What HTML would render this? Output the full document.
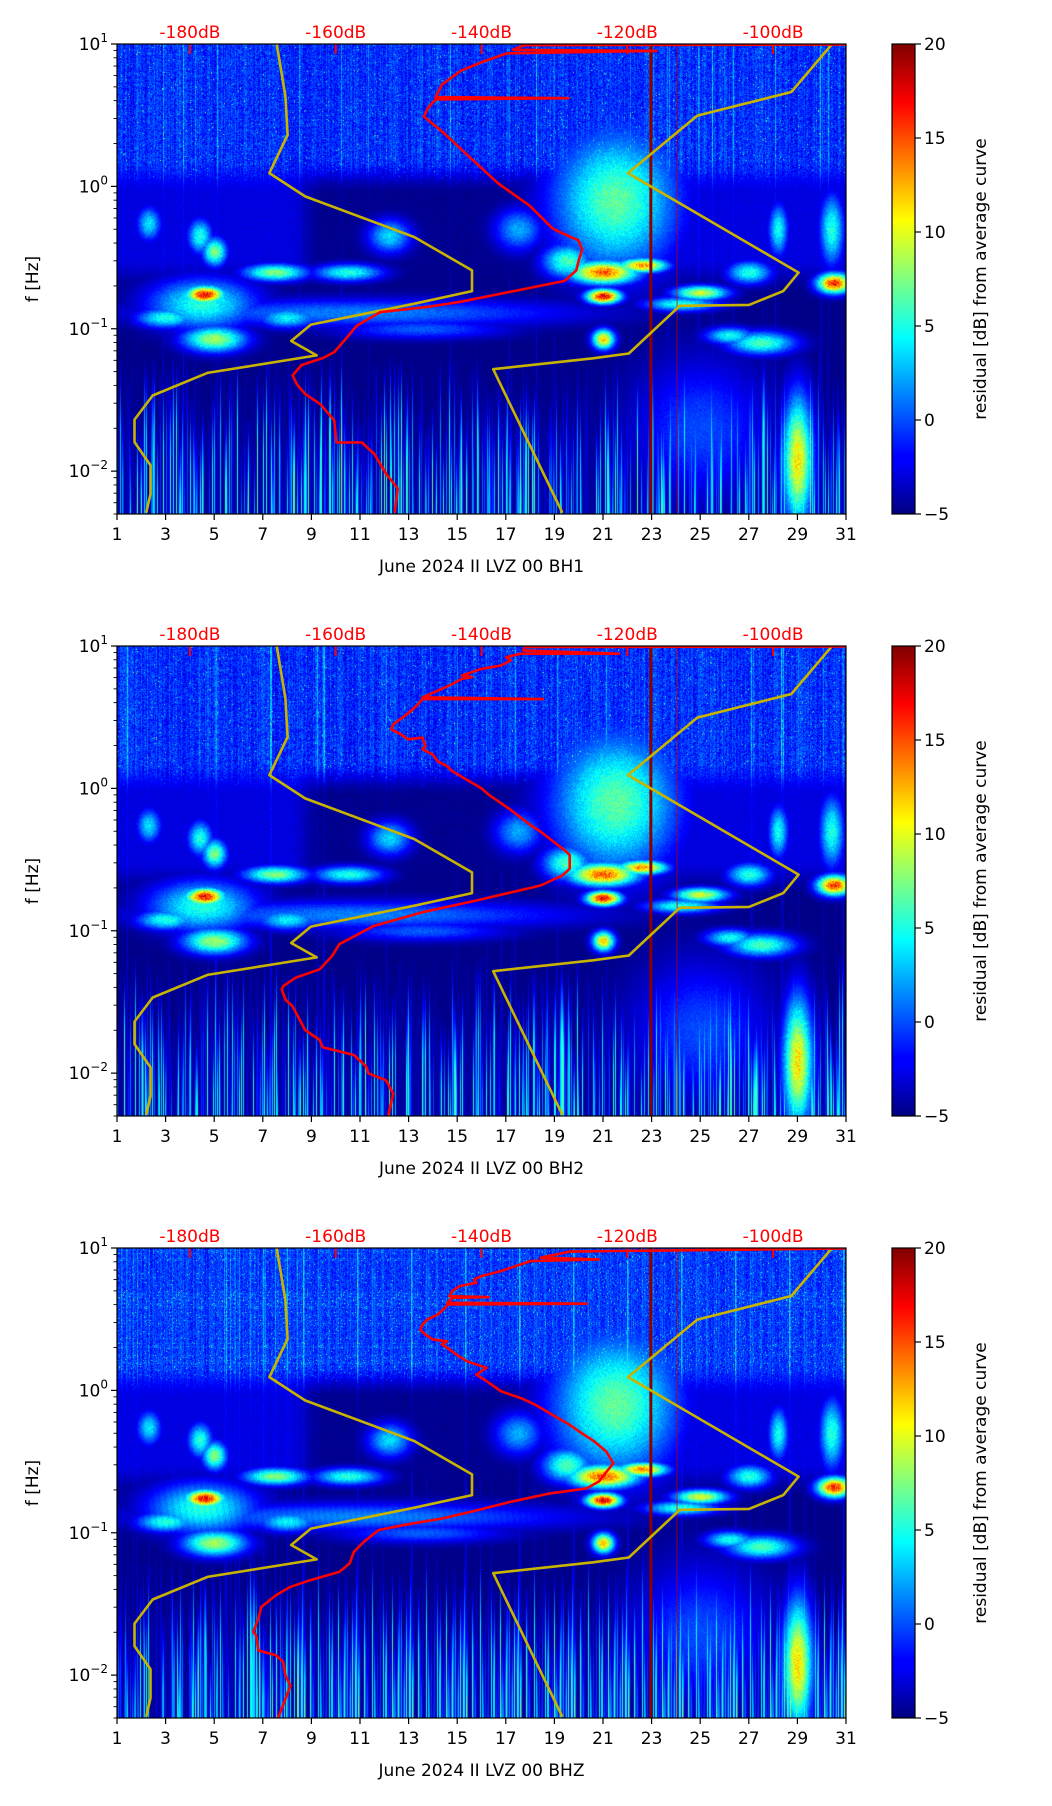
<!DOCTYPE html>
<html><head><meta charset="utf-8">
<style>
html,body{margin:0;padding:0;background:#fff;}
#wrap{position:relative;width:1052px;height:1806px;overflow:hidden;font-family:"DejaVu Sans","Liberation Sans",sans-serif;}
canvas{position:absolute;}
svg{position:absolute;left:0;top:0;}
</style></head>
<body>
<div id="wrap">
<canvas id="c0" width="729" height="470" style="left:117px;top:44px"></canvas>
<canvas id="c1" width="729" height="470" style="left:117px;top:646px"></canvas>
<canvas id="c2" width="729" height="470" style="left:117px;top:1248px"></canvas>
<svg id="s" width="1052" height="1806" xmlns="http://www.w3.org/2000/svg">
<defs>
<linearGradient id="jet" x1="0" y1="1" x2="0" y2="0">
<stop offset="0" stop-color="#000080"/><stop offset="0.11" stop-color="#0000ff"/>
<stop offset="0.125" stop-color="#0000ff"/><stop offset="0.375" stop-color="#00ffff"/>
<stop offset="0.625" stop-color="#ffff00"/><stop offset="0.875" stop-color="#ff0000"/>
<stop offset="1" stop-color="#800000"/>
</linearGradient>
</defs>
</svg>
</div>
<script>
// ---- data ----
const panelTitles = ["June 2024 II LVZ 00 BH1","June 2024 II LVZ 00 BH2","June 2024 II LVZ 00 BHZ"];
const dayTicks = [1,3,5,7,9,11,13,15,17,19,21,23,25,27,29,31];
const dbTicks = [-180,-160,-140,-120,-100];
const cbTicks = [-5,0,5,10,15,20];
const yDecades = [1,0,-1,-2];

// red curves: level in dB and frequency in Hz
const red1Db = [-151.9,-151.5,-153.1,-154.7,-156.4,-159.9,-160.2,-162.1,-164.2,-165.3,-165.9,-164.7,-161.8,-160.2,-158.7,-157.1,-153.9,-147.6,-142.8,-128.6,-127,-126.7,-126.2,-126.7,-127.8,-130.2,-133.4,-137.8,-141.3,-145.2,-147.9,-147.3,-146.3,-128.1,-146.3,-145.4,-142.8,-139.7,-136.5,-116,-135.7,-134.2,-90];
const red1F  = [.0051,.00755,.0096,.0132,.0159,.0159,.0227,.0295,.0349,.0405,.047,.0556,.0622,.0684,.084,.105,.131,.142,.155,.217,.257,.298,.36,.418,.442,.504,.732,1.06,1.55,2.38,3.09,3.58,4.08,4.16,4.24,5.2,6.5,7.55,8.6,8.94,9.1,9.8,9.92];
const red2Db = [-152.8,-152.1,-153.1,-155.5,-155.8,-157.5,-161.8,-162.2,-164.2,-165.9,-166.9,-167.4,-167.2,-165.5,-162.2,-160.5,-159.5,-154.8,-148.1,-140.7,-131.9,-128.9,-127.9,-127.9,-128.6,-131.9,-133.3,-136,-139,-140,-144,-144.7,-146,-146.7,-148.1,-147.7,-148.1,-150.1,-151.1,-152.4,-152.1,-150.8,-149.4,-148.7,-148.1,-131.6,-148.1,-146,-144,-142.7,-141.3,-142.7,-140,-137.3,-136,-136.6,-134.6,-121.2,-134.3,-134,-90];
const red2F  = [.00505,.00718,.0089,.00995,.0111,.0134,.0152,.0171,.0201,.0294,.0329,.0387,.0408,.0468,.0536,.0665,.0805,.108,.135,.163,.208,.245,.273,.34,.368,.497,.553,.707,.902,1.0,1.32,1.43,1.55,1.73,1.88,1.98,2.27,2.21,2.4,2.6,2.82,3.15,3.6,3.91,4.24,4.24,4.36,4.85,5.41,5.87,6.04,6.2,6.92,7.3,7.92,8.36,8.83,8.83,9.31,9.84,9.92];
const red3Db = [-167.9,-166.9,-166.2,-166.9,-167.2,-168.2,-170.6,-170.9,-171.3,-170.6,-170.2,-168.2,-166.2,-163.5,-159.5,-158.1,-157.5,-156.1,-154.1,-150.8,-145.4,-141.3,-136,-130.6,-125.6,-123.9,-123.2,-121.9,-122.9,-124.5,-126.6,-127.9,-130.3,-132.6,-134.6,-137.3,-139.3,-140.7,-139.3,-142,-143.4,-144.7,-145.4,-144.7,-146.7,-147.7,-148.4,-148.1,-147.4,-146,-145,-144.7,-125.6,-144.7,-144,-139,-144.4,-144,-143,-140.7,-141,-140,-137.3,-133.3,-123.9,-131.9,-127.9,-121.9,-90];
const red3F  = [.005,.0068,.00845,.00995,.0124,.0138,.0149,.019,.0201,.0249,.0301,.0364,.0417,.0464,.0531,.0608,.0735,.0865,.1045,.113,.126,.141,.165,.189,.205,.229,.255,.308,.372,.437,.514,.573,.674,.792,.883,.984,1.16,1.29,1.44,1.6,1.78,1.99,2.1,2.21,2.28,2.47,2.67,2.9,3.15,3.41,3.8,4.01,4.06,4.12,4.47,4.52,4.59,4.98,5.4,5.7,6.01,6.35,6.89,8.09,8.32,8.55,9.43,9.53,9.92];

// noise model curves (yellow)
const lowModelDb = [-168.1,-166.9,-166.6,-169.1,-164.2,-149.2,-141.3,-141.3,-149.2,-163.4,-166.1,-162.6,-177.6,-185.1,-187.6,-187.6,-185.4,-185.4,-186];
const lowModelF  = [10,4.3,2.3,1.24,0.85,0.44,0.257,0.184,0.15,0.107,0.082,0.065,0.049,0.034,0.023,0.016,0.011,0.0069,0.0051];
const highModelDb = [-91.9,-97.5,-110.4,-119.9,-96.5,-98.6,-103.3,-112.8,-119.8,-124.7,-138.4,-128.9];
const highModelF  = [10,4.6,3.14,1.24,0.248,0.184,0.147,0.145,0.067,0.062,0.052,0.0051];

// spectrogram features (day, frequency Hz, half-width days, half-height decades, level 0..1)
const blobDay = [2.3,4.4,5.0,4.6,4.5,5.0,7.5,10.5,12.2,11,21.5,21.0,21.0,22.6,21.0,25.0,27.0,30.5,30.4,27.5,28.2,29.0,25.0,13.5,17.5,3.0,8.0,26.2,24.2,19.5];
const blobF   = [0.55,0.45,0.35,0.175,0.15,0.085,0.25,0.25,0.45,0.13,0.8,0.25,0.17,0.28,0.085,0.18,0.25,0.21,0.5,0.08,0.5,0.012,0.02,0.1,0.5,0.12,0.12,0.09,0.15,0.3];
const blobRd  = [0.5,0.5,0.5,0.8,2.2,1.3,1.3,1.4,0.9,9,2.6,1.4,0.7,1.0,0.45,1.1,0.9,0.7,0.5,1.4,0.4,0.6,2.8,3.5,1.0,1.2,1.2,1.0,1.5,1.0];
const blobRl  = [0.12,0.12,0.1,0.06,0.18,0.09,0.06,0.06,0.12,0.1,0.5,0.08,0.05,0.05,0.07,0.05,0.08,0.07,0.25,0.08,0.18,0.45,0.5,0.07,0.15,0.07,0.07,0.06,0.05,0.12];
const blobT   = [0.36,0.42,0.52,0.9,0.42,0.55,0.52,0.42,0.35,0.26,0.48,0.8,0.92,0.75,0.7,0.6,0.42,0.86,0.42,0.46,0.4,0.66,0.2,0.22,0.3,0.42,0.38,0.4,0.42,0.46];

// ---- geometry ----
const L = 117, W = 729, H = 470, TOPS = [44,646,1248];
const LOGMAX = 1, LOGMIN = Math.log10(0.005);
function xDay(d){ return L + (d-1)/30*W; }
function xDb(db){ return L + (db+190)/100*W; }
function yF(top,f){ return top + (LOGMAX-Math.log10(f))/(LOGMAX-LOGMIN)*H; }
function yCb(top,v){ return top + (20-v)/25*H; }

function jet(t){
  t=Math.max(0,Math.min(1,t));
  const r=Math.max(0,Math.min(1,Math.min(4*t-1.5,-4*t+4.5)));
  const g=Math.max(0,Math.min(1,Math.min(4*t-0.5,-4*t+3.5)));
  const b=Math.max(0,Math.min(1,Math.min(4*t+0.5,-4*t+2.5)));
  return [r*255|0,g*255|0,b*255|0];
}
function sstep(a,b,x){ let t=Math.max(0,Math.min(1,(x-a)/(b-a))); return t*t*(3-2*t); }

// ---- spectrogram texture ----
function drawSpec(id, seed){
  let s=seed;
  function rnd(){ s=(s*1103515245+12345)&0x7fffffff; return s/0x7fffffff; }
  const cv=document.getElementById(id), ctx=cv.getContext('2d');
  const img=ctx.createImageData(W,H), d=img.data;
  const col=[], colH=[], colHi=[], colU=[];
  for(let x=0;x<W;x++){ const r=rnd(); col.push(r>0.45?(r-0.45)*0.8:0); colH.push(-1.15-rnd()*0.7); colHi.push(rnd()>0.93?rnd()*0.3:0); colU.push(rnd()*0.08); }
  for(let y=0;y<H;y++){
    const lf = LOGMAX - y/H*(LOGMAX-LOGMIN);
    const wU = sstep(-0.05,0.2,lf), wL = 1-sstep(-0.75,-0.5,lf);
    for(let x=0;x<W;x++){
      const day = 1 + x/W*30;
      const upT = 0.06+rnd()*0.14+colU[x]+colHi[x]*0.5+(rnd()>0.99?0.25:0);
      const dk = sstep(8,9.5,day)*(1-sstep(18.5,20,day));
      const midT = 0.08*(1-dk)+0.0*dk + rnd()*0.03 + colHi[x]*0.12;
      let lowT = 0.0+rnd()*0.02;
      if(lf<colH[x]){ const fade=Math.min(1,(colH[x]-lf)/0.5); lowT=Math.max(lowT,0.03+col[x]*fade); }
      lowT += colHi[x]*0.3;
      const mT = midT*(1-wL)+lowT*wL;
      let t = upT*wU + mT*(1-wU);
      let m=0;
      for(let i=0;i<blobDay.length;i++){
        const dx=(day-blobDay[i])/blobRd[i], dy=(lf-Math.log10(blobF[i]))/blobRl[i];
        const q=dx*dx+dy*dy; if(q<6){ const v=blobT[i]*Math.exp(-q); if(v>m) m=v; }
      }
      if(m>0) t=Math.max(t, m*(0.85+rnd()*0.25));
      const c=jet(t), p=(y*W+x)*4;
      d[p]=c[0]; d[p+1]=c[1]; d[p+2]=c[2]; d[p+3]=255;
    }
  }
  ctx.putImageData(img,0,0);
}
drawSpec('c0',11); drawSpec('c1',23); drawSpec('c2',37);

// ---- overlay ----
const NS="http://www.w3.org/2000/svg", svg=document.getElementById('s');
function el(tag, attrs, parent){ const e=document.createElementNS(NS,tag); for(const k in attrs) e.setAttribute(k,attrs[k]); (parent||svg).appendChild(e); return e; }

const reds=[[red1Db,red1F],[red2Db,red2F],[red3Db,red3F]];
const tagNames=["bh1","bh2","bhz"];
TOPS.forEach((top,pi)=>{
  const g=el('g',{});
  
  
  const cp=el('clipPath',{id:'cp'+pi},g); el('rect',{x:L,y:top,width:W,height:H},cp);
  const lines=el('g',{'clip-path':'url(#cp'+pi+')'},g);
  const v1=el('line',{x1:xDay(22.97),x2:xDay(22.97),y1:top,y2:top+H,stroke:'#8a0000','stroke-width':3},lines);
   
  const v2=el('line',{x1:xDay(24.05),x2:xDay(24.05),y1:top,y2:top+H,stroke:'#c00000','stroke-width':1,opacity:0.7},lines);
   
  dbTicks.forEach(db=>{ const t=el('line',{x1:xDb(db),x2:xDb(db),y1:top,y2:top+10,stroke:'#ff0000','stroke-width':2},lines);
      });
  function poly(dbs,fs,color,w,name){
    let p=''; for(let i=0;i<dbs.length;i++) p+=(i?'L':'M')+xDb(dbs[i]).toFixed(1)+','+yF(top,fs[i]).toFixed(1);
    const e=el('path',{d:p,fill:'none',stroke:color,'stroke-width':w,'stroke-linejoin':'round'},lines);
     
  }
  poly(lowModelDb,lowModelF,'#c8b400',2.6,'low-noise-model-line');
  poly(highModelDb,highModelF,'#c8b400',2.6,'high-noise-model-line');
  poly(reds[pi][0],reds[pi][1],'#ff0000',2.6,'psd-curve-line');
  const fr=el('rect',{x:L,y:top,width:W,height:H,fill:'none',stroke:'#000','stroke-width':1.2},g);
   
  dayTicks.forEach(dv=>{
    const x=xDay(dv);
    el('line',{x1:x,x2:x,y1:top+H,y2:top+H+6,stroke:'#000','stroke-width':1.2},g);
    const t=el('text',{x:x,y:top+H+26,'text-anchor':'middle','font-size':17,fill:'#000'},g); t.textContent=dv;
     
  });
  const xl=el('text',{x:L+W/2,y:top+H+58,'text-anchor':'middle','font-size':17,fill:'#000'},g); xl.textContent=panelTitles[pi];
   
  for(let dec=1;dec>=-3;dec--){
    for(let m=1;m<10;m++){
      const f=m*Math.pow(10,dec); if(f>10.0001||f<0.005) continue;
      const y=yF(top,f);
      el('line',{x1:L,x2:L-(m===1?6:3.5),y1:y,y2:y,stroke:'#000','stroke-width':m===1?1.2:0.9},g);
    }
  }
  yDecades.forEach(dec=>{
    const y=yF(top,Math.pow(10,dec));
    const t=el('text',{x:108,y:y+6,'text-anchor':'end','font-size':17,fill:'#000'},g);
     
    const a=el('tspan',{},t); a.textContent='10';
    const b=el('tspan',{dy:-8,'font-size':12},t); b.textContent=(dec<0?'\u2212':'')+Math.abs(dec);
  });
  const yl=el('text',{x:0,y:0,'text-anchor':'middle','font-size':17,fill:'#000',transform:'translate(38,'+(top+H/2)+') rotate(-90)'},g);
  yl.textContent='f [Hz]';  
  dbTicks.forEach(db=>{
    const t=el('text',{x:xDb(db),y:top-6,'text-anchor':'middle','font-size':17,fill:'#ff0000'},g); t.textContent=db+'dB';
     
  });
  const cb=el('rect',{x:892,y:top,width:23,height:H,fill:'url(#jet)',stroke:'#000','stroke-width':1.2},g);
   
  cbTicks.forEach(v=>{
    const y=yCb(top,v);
    el('line',{x1:915,x2:921,y1:y,y2:y,stroke:'#000','stroke-width':1.2},g);
    const t=el('text',{x:924,y:y+6,'font-size':17,fill:'#000'},g); t.textContent=(v<0?'\u2212':'')+Math.abs(v);
     
  });
  const cl=el('text',{x:0,y:0,'text-anchor':'middle','font-size':17,fill:'#000',transform:'translate(986,'+(top+H/2)+') rotate(-90)'},g);
  cl.textContent='residual [dB] from average curve';  
});
</script>
</body></html>
